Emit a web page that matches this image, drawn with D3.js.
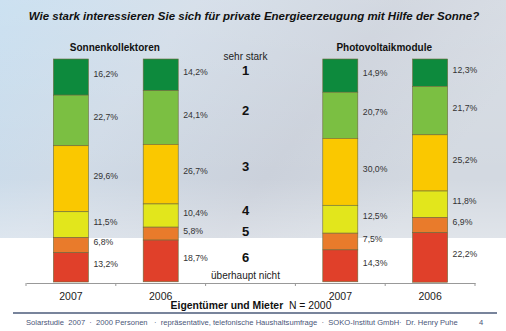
<!DOCTYPE html>
<html>
<head>
<meta charset="utf-8">
<script src="https://cdn.jsdelivr.net/npm/d3@7"></script>
<style>
  body { margin: 0; background: #fff; }
  svg { display: block; font-family: "Liberation Sans", Arial, sans-serif; }
</style>
</head>
<body>
<svg width="506" height="331"></svg>
<script>
// Kategorien (Bänder auf der X-Achse), "mitte" ist die Spalte mit den Stufen 1..6
const bands = ['SK2007', 'SK2006', 'mitte', 'PV2007', 'PV2006'];
const barKeys = ['SK2007', 'SK2006', 'PV2007', 'PV2006'];
const yearLabels = ['2007', '2006', '', '2007', '2006'];
const groupTitles = ['Sonnenkollektoren', 'Photovoltaikmodule'];

// Anteile in %, von oben (1 = sehr stark) nach unten (6 = überhaupt nicht)
const sk2007 = [16.2, 22.7, 29.6, 11.5, 6.8, 13.2];
const sk2006 = [14.2, 24.1, 26.7, 10.4, 5.8, 18.7];
const pv2007 = [14.9, 20.7, 30.0, 12.5, 7.5, 14.3];
const pv2006 = [12.3, 21.7, 25.2, 11.8, 6.9, 22.2];
const levels = ['1', '2', '3', '4', '5', '6'];

const colors = ['#0d8a3d', '#7bbf42', '#fac800', '#e2e61c', '#e97b2b', '#e0402a'];

const svg = d3.select('svg');

// Hintergrund (Himmel / Solarmodule angedeutet)
const defs = svg.append('defs');
const gr = defs.append('linearGradient').attr('id', 'bg')
    .attr('x1', 0).attr('y1', 0).attr('x2', 1).attr('y2', 0.35);
gr.append('stop').attr('offset', '0%').attr('stop-color', '#c3dcef');
gr.append('stop').attr('offset', '35%').attr('stop-color', '#d0dbe7');
gr.append('stop').attr('offset', '70%').attr('stop-color', '#cbd1db');
gr.append('stop').attr('offset', '100%').attr('stop-color', '#d3d9e1');
const fade = defs.append('linearGradient').attr('id', 'fade')
    .attr('x1', 0).attr('y1', 0).attr('x2', 0).attr('y2', 1);
fade.append('stop').attr('offset', '0%').attr('stop-color', '#fff').attr('stop-opacity', 0.15);
fade.append('stop').attr('offset', '75%').attr('stop-color', '#fff').attr('stop-opacity', 0);
fade.append('stop').attr('offset', '100%').attr('stop-color', '#fff').attr('stop-opacity', 0.3);
svg.append('rect').attr('x', 0).attr('y', 0).attr('width', 506).attr('height', 238).attr('fill', 'url(#bg)');
svg.append('rect').attr('x', 0).attr('y', 0).attr('width', 506).attr('height', 238).attr('fill', 'url(#fade)');

// Skalen
const x = d3.scaleBand().domain(bands).range([26, 475]).padding(0);
const y = d3.scaleLinear().domain([0, 100]).range([282, 59]);
const barW = x.bandwidth() * 0.39;

// Achse
const axis = d3.axisBottom(x).tickSize(0).tickFormat((d, i) => yearLabels[i]);
const gx = svg.append('g').attr('transform', 'translate(0,283)').call(axis);
gx.select('.domain').attr('stroke', '#999');
gx.selectAll('text').attr('font-size', 10.5).attr('fill', '#222').attr('dy', '1.3em')
    .attr('font-family', '"Liberation Sans", Arial, sans-serif');
// kleine Striche an den Bandgrenzen
const bounds = bands.map(b => x(b)).concat([x.range()[1]]);
gx.selectAll('.sep').data(bounds).enter().append('line')
    .attr('x1', d => d).attr('x2', d => d).attr('y1', 0).attr('y2', 3)
    .attr('stroke', '#999');

// gestapelte Balken
const series = [sk2007, sk2006, pv2007, pv2006];
series.forEach((vals, k) => {
    const key = barKeys[k];
    const cx = x(key) + x.bandwidth() / 2;
    let acc = 0;
    const segs = vals.map((v, i) => {
        const s = { top: 100 - acc, bot: 100 - acc - v, v: v, i: i };
        acc += v;
        return s;
    });
    const g = svg.append('g');
    g.selectAll('rect').data(segs).enter().append('rect')
        .attr('x', cx - barW / 2)
        .attr('width', barW)
        .attr('y', d => y(d.top))
        .attr('height', d => y(d.bot) - y(d.top))
        .attr('fill', d => colors[d.i])
        .attr('stroke', '#6b6a3a')
        .attr('stroke-width', 0.6);
    g.selectAll('text').data(segs).enter().append('text')
        .attr('x', cx + barW / 2 + 5)
        .attr('y', d => (y(d.top) + y(d.bot)) / 2 - 3)
        .attr('dominant-baseline', 'central')
        .attr('font-size', 8.7)
        .attr('fill', '#333')
        .text(d => d3.format('.1f')(d.v).replace('.', ',') + '%');
});

// Stufen 1..6 in der Mitte (mittlere Höhe der Segmente)
const mids = levels.map((l, i) => {
    const m = d3.mean(series, vals => {
        const before = d3.sum(vals.slice(0, i));
        return (y(100 - before) + y(100 - before - vals[i])) / 2;
    });
    return { l: l, m: m };
});
const midX = x('mitte') + x.bandwidth() / 2 - 5;
svg.selectAll('.lvl').data(mids).enter().append('text')
    .attr('x', midX).attr('y', d => d.m - 5)
    .attr('text-anchor', 'middle').attr('dominant-baseline', 'central')
    .attr('font-size', 13).attr('font-weight', 'bold').attr('fill', '#111')
    .text(d => d.l);
svg.append('text').attr('x', midX).attr('y', 60)
    .attr('text-anchor', 'middle').attr('font-size', 10).attr('fill', '#222').text('sehr stark');
svg.append('text').attr('x', midX).attr('y', 279)
    .attr('text-anchor', 'middle').attr('font-size', 10).attr('fill', '#222').text('überhaupt nicht');

// Gruppentitel
[['SK2007', 'SK2006'], ['PV2007', 'PV2006']].forEach((pair, i) => {
    const cx = (x(pair[0]) + x(pair[1]) + x.bandwidth()) / 2 - 1;
    svg.append('text').attr('x', cx).attr('y', 51)
        .attr('text-anchor', 'middle').attr('font-size', 10).attr('font-weight', 'bold')
        .attr('fill', '#111').text(groupTitles[i]);
});

// Titel
svg.append('text').attr('x', 254).attr('y', 20)
    .attr('text-anchor', 'middle').attr('font-size', 11.5).attr('font-weight', 'bold')
    .attr('font-style', 'italic').attr('fill', '#111')
    .text('Wie stark interessieren Sie sich für private Energieerzeugung mit Hilfe der Sonne?');

// Untertitel unter der Achse
const sub = svg.append('text').attr('x', 251).attr('y', 309)
    .attr('text-anchor', 'middle').attr('font-size', 10.4).attr('fill', '#111');
sub.append('tspan').attr('font-weight', 'bold').text('Eigentümer und Mieter');
sub.append('tspan').text('\u00a0\u00a0N = 2000');

// Fußzeile
svg.append('line').attr('x1', 13).attr('x2', 497).attr('y1', 313).attr('y2', 313)
    .attr('stroke', '#4b5b7a').attr('stroke-width', 1.5);
svg.append('text').attr('x', 26).attr('y', 325).attr('font-size', 7.6).attr('fill', '#4a5578')
    .attr('xml:space', 'preserve')
    .text('Solarstudie  2007  ·  2000 Personen   ·  repräsentative, telefonische Haushaltsumfrage  ·  SOKO-Institut GmbH·  Dr. Henry Puhe');
svg.append('text').attr('x', 479).attr('y', 325).attr('font-size', 7.6).attr('fill', '#4a5578').text('4');
</script>
</body>
</html>
